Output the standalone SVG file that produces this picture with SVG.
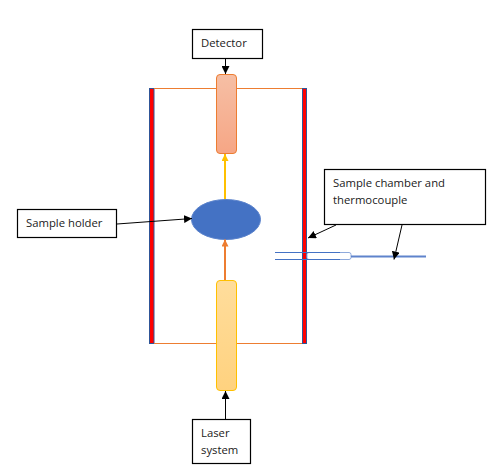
<svg xmlns="http://www.w3.org/2000/svg" width="491" height="471" viewBox="0 0 491 471">
<style>
.box{fill:#fff;stroke:#000;stroke-width:1.2}
.t{font-family:"Open Sans","Noto Sans","DejaVu Sans",sans-serif;font-size:11.3px;fill:#1a1a1a}
.wall{fill:#f00;stroke:#2f5597;stroke-width:1}
.k{fill:none;stroke:#000;stroke-width:1;marker-end:url(#ak)}
</style>
<defs>
<marker id="ak" markerUnits="userSpaceOnUse" markerWidth="9" markerHeight="8" refX="8" refY="4" orient="auto"><path d="M0 0L8 4L0 8Z" fill="#000"/></marker>
<marker id="ay" markerUnits="userSpaceOnUse" markerWidth="8" markerHeight="8" refX="7" refY="3.500" orient="auto"><path d="M0 0L7 3.500L0 7Z" fill="#ffc000"/></marker>
<marker id="ao" markerUnits="userSpaceOnUse" markerWidth="8" markerHeight="8" refX="7" refY="3.500" orient="auto"><path d="M0 0L7 3.500L0 7Z" fill="#ed7d31"/></marker>
<linearGradient id="go" x1="0" y1="0" x2="0" y2="1"><stop offset="0" stop-color="#f6bfa5"/><stop offset="1" stop-color="#f6a685"/></linearGradient>
<linearGradient id="gy" x1="0" y1="0" x2="0" y2="1"><stop offset="0" stop-color="#ffdd9c"/><stop offset="1" stop-color="#ffd27f"/></linearGradient>
</defs>
<rect width="491" height="471" fill="#fff"/>
<g id="chamber">
<rect class="wall" x="149.500" y="88.500" width="4.500" height="255"/>
<rect class="wall" x="302.500" y="88.500" width="4" height="255"/>
<path d="M154 88.500H302M154 343.500H302" fill="none" stroke="#ed7d31" stroke-width="1"/>
</g>
<g id="thermocouple">
<path d="M275 252.500H310M275 259.500H310" fill="none" stroke="#4472c4" stroke-width="1"/>
<rect x="307" y="252.500" width="44" height="7" rx="2" fill="#fff" stroke="#8faadc" stroke-width="1"/>
<path d="M307 252.500H340M307 259.500H340" fill="none" stroke="#4472c4" stroke-width="1"/>
<path d="M351 256.500H426" fill="none" stroke="#5f83cc" stroke-width="2"/>
</g>
<g id="detector-tube"><rect x="216.500" y="74.500" width="20" height="79" rx="3.500" fill="url(#go)" stroke="#ed7d31" stroke-width="1"/></g>
<g id="laser-tube"><rect x="216.500" y="280.500" width="20" height="110" rx="3.500" fill="url(#gy)" stroke="#ffc000" stroke-width="1"/></g>
<g id="holder"><ellipse cx="226" cy="219.500" rx="34.500" ry="20" fill="#4472c4" stroke="#5b83cc" stroke-width="1"/></g>
<g id="connectors">
<path d="M225 199V154" fill="none" stroke="#ffc000" stroke-width="2" marker-end="url(#ay)"/>
<path d="M225 280V239.500" fill="none" stroke="#ed7d31" stroke-width="2" marker-end="url(#ao)"/>
<path class="k" d="M225.500 58.500V74"/>
<path class="k" d="M225.500 419V391"/>
<path class="k" d="M117 224L192 218.500"/>
<path class="k" d="M336 225L308 238"/>
<path class="k" d="M402 225L394 259.500"/>
</g>
<g id="detector"><rect class="box" x="192.500" y="29.500" width="70" height="29"/><text class="t" x="201" y="47">Detector</text></g>
<g id="sample-holder"><rect class="box" x="17.500" y="209.500" width="99" height="28"/><text class="t" x="26" y="227">Sample holder</text></g>
<g id="sample-chamber"><rect class="box" x="324.500" y="169.500" width="161" height="55"/><text class="t" x="333" y="187">Sample chamber and</text><text class="t" x="333" y="204">thermocouple</text></g>
<g id="laser"><rect class="box" x="192.500" y="419.500" width="58" height="44"/><text class="t" x="201" y="437">Laser</text><text class="t" x="201" y="454">system</text></g>
</svg>
